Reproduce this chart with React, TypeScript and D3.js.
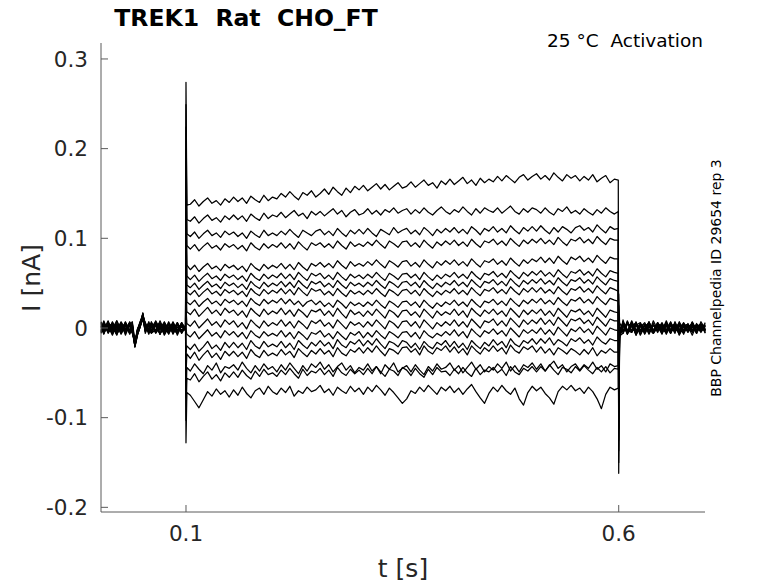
import React from 'react';
import * as d3 from 'd3';

// sample times (s): holding | step | tail
const preTimes = [
  0.002, 0.005, 0.01, 0.015, 0.02, 0.025, 0.03, 0.035, 0.038, 0.041, 0.044, 0.047,
  0.0502, 0.053, 0.057, 0.06, 0.065, 0.07, 0.075, 0.08, 0.085, 0.09, 0.095, 0.0995,
];
const pulseTimes = [
  0.1, 0.101,
  0.105, 0.11, 0.115, 0.12, 0.125, 0.13, 0.135, 0.14, 0.145, 0.15,
  0.155, 0.16, 0.165, 0.17, 0.175, 0.18, 0.185, 0.19, 0.195, 0.2,
  0.205, 0.21, 0.215, 0.22, 0.225, 0.23, 0.235, 0.24, 0.245, 0.25,
  0.255, 0.26, 0.265, 0.27, 0.275, 0.28, 0.285, 0.29, 0.295, 0.3,
  0.305, 0.31, 0.315, 0.32, 0.325, 0.33, 0.335, 0.34, 0.345, 0.35,
  0.355, 0.36, 0.365, 0.37, 0.375, 0.38, 0.385, 0.39, 0.395, 0.4,
  0.405, 0.41, 0.415, 0.42, 0.425, 0.43, 0.435, 0.44, 0.445, 0.45,
  0.455, 0.46, 0.465, 0.47, 0.475, 0.48, 0.485, 0.49, 0.495, 0.5,
  0.505, 0.51, 0.515, 0.52, 0.525, 0.53, 0.535, 0.54, 0.545, 0.55,
  0.555, 0.56, 0.565, 0.57, 0.575, 0.58, 0.585, 0.59, 0.595,
  0.5995,
];
const postTimes = [
  0.6, 0.601,
  0.605, 0.61, 0.615, 0.62, 0.625, 0.63, 0.635, 0.64, 0.645, 0.65,
  0.655, 0.66, 0.665, 0.67, 0.675, 0.68, 0.685, 0.69, 0.695, 0.7,
];

// current of each sweep in pA (pre 24 | pulse 102 | post 22)
const sweep01 = [
  6, -5, 3, -7, 8, -2, 5, -6, 2, -19, -6, 4, 16, -4, 7, -5, 3, -7, 6, -1, 5, -8, 3, 0,
  274, 137,
  138, 143, 136, 141, 145, 139, 142, 137, 144, 140,
  146, 141, 145, 139, 147, 143, 140, 148, 142, 146,
  144, 150, 146, 152, 147, 143, 151, 148, 153, 146,
  150, 155, 149, 157, 152, 148, 156, 151, 158, 154,
  159, 153, 157, 161, 155, 160, 154, 158, 162, 156,
  158, 163, 157, 161, 165, 159, 162, 156, 164, 160,
  166, 160, 164, 168, 161, 165, 159, 167, 162, 166,
  163, 169, 164, 170, 166, 162, 168, 171, 165, 169,
  172, 166, 170, 165, 173, 168, 164, 171, 167, 170,
  164, 169, 165, 171, 163, 167, 170, 162, 166,
  165,
  -162, -12, 9, -7, 6, -8, 4, -3, 7, -6, 2, -7, 6, -2, 5, -8, 3, -4, 7, -3, 5, -6,
];
const sweep02 = [
  -4, 7, -6, 2, -8, 5, -1, 6, -5, -16, -2, 6, 12, 5, -7, 3, -4, 8, -3, 4, -6, 1, -5, 2,
  249, 121,
  119, 124, 117, 122, 126, 120, 123, 118, 125, 121,
  126, 121, 125, 119, 127, 123, 120, 128, 122, 126,
  124, 129, 123, 127, 131, 125, 128, 122, 130, 126,
  130, 125, 129, 133, 127, 131, 124, 129, 132, 126,
  128, 133, 127, 131, 126, 132, 129, 134, 128, 131,
  133, 127, 132, 128, 134, 129, 126, 131, 135, 130,
  127, 132, 129, 135, 130, 126, 133, 128, 134, 131,
  129, 134, 128, 132, 136, 130, 127, 133, 129, 134,
  132, 128, 134, 129, 126, 133, 130, 135, 128, 131,
  127, 133, 129, 126, 132, 128, 134, 130, 127,
  130,
  -150, -9, -6, 8, -4, 7, -7, 3, -6, 8, -2, 4, -7, 5, -1, 6, -4, 2, -8, 4, -3, 6,
];
const sweep03 = [
  5, -2, 8, -6, 1, -4, 7, -3, 4, -21, -7, 1, 17, -2, 5, -6, 8, -1, 2, -7, 4, -3, 6, -1,
  224, 105,
  102, 107, 100, 105, 109, 103, 106, 101, 108, 104,
  107, 102, 106, 100, 108, 104, 101, 109, 103, 106,
  103, 108, 104, 110, 105, 101, 109, 106, 103, 108,
  110, 104, 108, 103, 111, 106, 102, 109, 105, 110,
  105, 111, 106, 102, 110, 107, 104, 112, 106, 109,
  111, 105, 109, 104, 112, 108, 103, 110, 106, 111,
  107, 112, 106, 110, 105, 113, 109, 104, 111, 108,
  113, 107, 111, 106, 114, 109, 105, 112, 108, 113,
  108, 114, 109, 105, 112, 107, 113, 110, 106, 112,
  114, 109, 112, 107, 115, 110, 106, 113, 110,
  111,
  -137, -8, 7, -4, 5, -8, 3, -1, 6, -5, 4, -3, 8, -4, 1, -6, 5, -2, 4, -6, 7, -1,
];
const sweep04 = [
  -6, 3, -4, 7, -2, 6, -8, 4, -3, -17, -4, 6, 13, 2, -5, 7, -3, 5, -8, 1, -2, 6, -5, 3,
  199, 92,
  88, 93, 86, 91, 95, 89, 92, 87, 94, 90,
  93, 88, 92, 86, 95, 90, 87, 94, 89, 93,
  90, 95, 89, 94, 88, 96, 91, 87, 95, 92,
  95, 90, 94, 89, 97, 92, 88, 96, 91, 94,
  91, 96, 92, 98, 93, 89, 97, 94, 90, 96,
  97, 91, 95, 90, 98, 93, 89, 96, 92, 97,
  93, 98, 92, 96, 91, 99, 94, 90, 97, 95,
  99, 93, 97, 92, 100, 95, 91, 98, 94, 99,
  95, 100, 94, 98, 93, 101, 96, 92, 99, 97,
  101, 95, 99, 94, 102, 97, 93, 100, 98,
  98,
  -125, -7, 4, -6, 8, -3, 5, -7, 2, -4, 6, -1, 4, -6, 3, -7, 5, -3, 6, -4, 2, -3,
];
const sweep05 = [
  2, -7, 5, -1, 8, -4, 3, -6, 5, -19, -1, 7, 15, -6, 3, -2, 6, -7, 4, -3, 7, -4, 2, -1,
  173, 70,
  65, 70, 63, 68, 72, 66, 69, 64, 71, 67,
  70, 65, 69, 63, 72, 67, 64, 71, 66, 70,
  67, 72, 66, 71, 65, 73, 68, 64, 72, 69,
  73, 68, 72, 67, 75, 70, 66, 74, 69, 72,
  69, 74, 70, 76, 71, 67, 75, 72, 68, 74,
  75, 69, 73, 68, 76, 71, 67, 74, 70, 75,
  71, 76, 70, 74, 69, 77, 72, 68, 75, 73,
  77, 71, 75, 70, 78, 73, 69, 76, 72, 77,
  74, 79, 73, 78, 72, 80, 75, 71, 79, 76,
  80, 74, 78, 73, 81, 76, 72, 79, 77,
  77,
  -112, -6, 6, -4, 3, -7, 4, -2, 7, -4, 3, -5, 5, -3, 4, -7, 2, -4, 6, -2, 4, -5,
];
const sweep06 = [
  -3, 6, -2, 5, -6, 1, -5, 7, -1, -15, -5, 3, 11, 4, -3, 6, -5, 2, -7, 5, -1, 4, -3, 1,
  148, 58,
  54, 59, 52, 57, 61, 55, 58, 53, 60, 56,
  59, 54, 58, 52, 61, 56, 53, 60, 55, 59,
  56, 61, 55, 60, 54, 62, 57, 53, 61, 58,
  61, 55, 59, 54, 62, 57, 53, 60, 56, 59,
  55, 60, 56, 62, 57, 53, 61, 58, 54, 60,
  61, 56, 60, 54, 62, 57, 53, 59, 55, 60,
  57, 62, 56, 60, 55, 63, 58, 54, 61, 59,
  63, 57, 61, 56, 64, 59, 55, 62, 58, 63,
  59, 64, 58, 62, 57, 65, 60, 56, 63, 61,
  65, 59, 63, 58, 66, 61, 57, 64, 62,
  61,
  -100, -8, 5, -3, 7, -5, 2, 4, -7, 3, -2, 6, -4, 3, -6, 7, -3, 1, -5, 5, -2, 3,
];
const sweep07 = [
  4, -4, 2, -8, 5, -2, 6, -4, 1, -21, -8, 2, 14, 5, -6, 1, 7, -3, 4, -5, 2, -6, 5, -2,
  123, 48,
  45, 50, 43, 48, 52, 46, 49, 44, 51, 47,
  50, 45, 49, 43, 52, 47, 44, 51, 46, 50,
  47, 52, 46, 51, 45, 53, 48, 44, 52, 49,
  52, 46, 50, 45, 53, 48, 44, 51, 47, 50,
  46, 51, 47, 53, 48, 44, 52, 49, 45, 51,
  52, 47, 51, 45, 53, 48, 44, 50, 46, 51,
  48, 53, 47, 51, 46, 54, 49, 45, 52, 50,
  54, 48, 52, 47, 55, 50, 46, 53, 49, 54,
  50, 55, 49, 53, 48, 56, 51, 47, 54, 52,
  56, 50, 54, 49, 57, 52, 48, 55, 53,
  52,
  -87, -5, -4, 7, -3, 4, -8, 2, 5, -4, 6, -3, 3, -5, 4, -2, 6, -4, 2, -6, 4, -3,
];
const sweep08 = [
  -5, 5, -3, 3, -7, 4, -1, 2, -6, -16, -3, 5, 12, -1, 4, -5, 2, 6, -4, 5, -7, 3, 1, -3,
  98, 40,
  37, 42, 35, 40, 44, 38, 41, 36, 43, 39,
  42, 37, 41, 35, 44, 39, 36, 43, 38, 42,
  39, 44, 38, 43, 37, 45, 40, 36, 44, 41,
  43, 37, 41, 36, 44, 39, 35, 42, 38, 41,
  37, 42, 38, 44, 39, 35, 43, 40, 36, 42,
  43, 38, 42, 36, 44, 39, 35, 41, 37, 42,
  39, 44, 38, 42, 37, 45, 40, 36, 43, 41,
  45, 39, 43, 38, 46, 41, 37, 44, 40, 45,
  40, 45, 39, 43, 38, 46, 41, 37, 44, 42,
  46, 40, 44, 39, 47, 42, 38, 45, 43,
  41,
  -75, -7, 2, -5, 6, -3, 3, -6, 4, -2, 5, -4, 2, -6, 7, -3, 1, -4, 5, -2, 3, -5,
];
const sweep09 = [
  7, -3, 1, -5, 3, -2, 5, -7, 3, -18, -5, 2, 15, 3, -4, 5, -6, 1, -5, 4, -2, -6, 3, 1,
  73, 29,
  26, 31, 24, 29, 33, 27, 30, 25, 32, 28,
  31, 26, 30, 24, 33, 28, 25, 32, 27, 31,
  28, 33, 27, 32, 26, 30, 24, 29, 31, 26,
  30, 24, 28, 23, 31, 27, 22, 29, 25, 28,
  24, 29, 25, 31, 26, 22, 30, 27, 23, 29,
  30, 25, 29, 23, 31, 26, 22, 28, 24, 29,
  26, 31, 25, 29, 24, 32, 27, 23, 30, 28,
  32, 26, 30, 25, 33, 28, 24, 31, 27, 32,
  28, 33, 27, 31, 26, 34, 29, 25, 32, 30,
  34, 28, 32, 27, 35, 30, 26, 33, 31,
  30,
  -62, -6, 5, -3, 2, 6, -4, 3, -2, -6, 4, 1, -3, 6, -4, 3, -7, 4, -2, 3, -4, 2,
];
const sweep10 = [
  -2, 8, -4, 2, -6, 3, -3, 6, -2, -20, -7, 1, 12, 6, -2, -4, 4, -1, 7, -4, 2, -5, 6, -3,
  48, 18,
  15, 21, 13, 18, 23, 16, 20, 14, 22, 17,
  20, 14, 19, 12, 22, 17, 13, 21, 15, 19,
  16, 22, 15, 20, 13, 21, 17, 12, 20, 18,
  21, 14, 19, 13, 22, 16, 11, 20, 15, 18,
  13, 19, 14, 21, 16, 11, 20, 17, 12, 19,
  20, 14, 18, 12, 21, 16, 11, 19, 14, 18,
  15, 21, 14, 19, 12, 22, 17, 13, 20, 16,
  21, 15, 19, 13, 22, 17, 12, 20, 15, 20,
  16, 21, 14, 19, 13, 22, 17, 12, 20, 18,
  21, 15, 19, 13, 22, 17, 12, 20, 18,
  17,
  -50, -8, 7, -2, -4, 3, 6, -3, 1, -5, 3, -6, 4, -2, 5, -4, 2, -3, 6, -4, 3, -2,
];
const sweep11 = [
  3, -6, 6, -3, 4, -7, 2, -2, 5, -17, -2, 6, 16, 1, 3, -4, 5, -6, 1, -5, 6, -2, -4, 2,
  23, 5,
  2, 8, 0, 5, 10, 3, 7, 1, 9, 4,
  8, 1, 6, -1, 9, 4, 0, 8, 2, 6,
  3, 9, 2, 7, 0, 8, 4, -1, 8, 5,
  9, 2, 6, 0, 9, 4, -1, 7, 3, 6,
  1, 7, 2, 9, 4, -1, 8, 5, 0, 7,
  8, 2, 7, 0, 9, 4, -1, 6, 2, 7,
  3, 9, 2, 7, 1, 10, 5, 0, 8, 6,
  10, 3, 8, 2, 11, 6, 1, 9, 4, 9,
  5, 11, 4, 9, 3, 12, 7, 2, 10, 8,
  11, 5, 9, 3, 12, 7, 2, 10, 8,
  8,
  -37, -5, -6, 4, 3, -4, 1, 6, -3, 3, -5, 4, -2, 7, -4, 2, -3, 5, -4, 3, -1, 4,
];
const sweep12 = [
  -4, 2, -1, 6, -5, 4, -6, 3, 7, -15, -1, 3, 10, -3, 6, 2, -5, 3, -4, 7, -2, 4, -6, 1,
  -2, -7,
  -10, -4, -12, -7, -2, -9, -5, -11, -3, -8,
  -4, -10, -5, -12, -3, -8, -11, -4, -9, -6,
  -9, -3, -10, -5, -12, -4, -8, -13, -5, -7,
  -3, -10, -6, -12, -4, -9, -13, -5, -8, -4,
  -11, -5, -10, -3, -8, -12, -4, -7, -11, -5,
  -4, -10, -5, -12, -3, -8, -11, -6, -9, -4,
  -8, -2, -9, -4, -11, -1, -6, -10, -3, -6,
  -1, -7, -3, -9, 0, -5, -10, -2, -6, -2,
  -6, 0, -7, -2, -8, 1, -4, -9, -1, -4,
  1, -5, -1, -7, 2, -3, -8, 0, -2,
  -3,
  -25, -7, 3, -4, 6, -2, -4, 3, 4, -3, -2, 5, -6, 2, 4, -3, -5, 3, -2, 4, -3, 2,
];
const sweep13 = [
  1, -5, 7, -2, 3, -6, 4, -3, -5, -19, -6, 4, 13, 3, -5, 1, 3, -7, 5, -1, 2, -5, 4, -2,
  -27, -20,
  -24, -18, -26, -21, -15, -23, -19, -25, -16, -22,
  -16, -22, -17, -24, -14, -20, -23, -15, -21, -18,
  -21, -15, -22, -17, -24, -14, -19, -23, -16, -20,
  -14, -20, -16, -23, -13, -19, -22, -15, -18, -13,
  -20, -14, -19, -12, -18, -23, -15, -17, -21, -14,
  -16, -22, -17, -24, -15, -20, -23, -16, -19, -14,
  -21, -15, -22, -17, -24, -14, -19, -23, -16, -20,
  -13, -19, -15, -22, -12, -18, -21, -14, -17, -12,
  -18, -12, -17, -11, -19, -13, -16, -20, -12, -15,
  -11, -17, -13, -19, -10, -15, -18, -12, -14,
  -14,
  -12, -9, 4, -7, 2, 5, -4, -2, 4, -6, 3, -3, 6, -4, 2, -6, 3, 4, -3, 2, -5, 3,
];
const sweep14 = [
  5, -1, 3, -6, 2, -4, 6, -5, 2, -21, -3, 5, 9, -4, 2, 5, -3, 1, -6, 3, -2, 5, -4, 3,
  -52, -29,
  -34, -27, -36, -30, -25, -33, -28, -35, -26, -31,
  -26, -32, -27, -34, -24, -30, -33, -25, -31, -28,
  -31, -24, -30, -26, -33, -23, -28, -32, -25, -29,
  -23, -29, -25, -32, -22, -28, -31, -24, -27, -22,
  -28, -22, -27, -20, -26, -31, -23, -25, -29, -22,
  -21, -27, -23, -30, -20, -26, -29, -22, -25, -20,
  -27, -21, -28, -23, -30, -20, -25, -29, -22, -26,
  -20, -26, -22, -29, -19, -25, -28, -21, -24, -20,
  -27, -21, -28, -23, -30, -22, -25, -29, -23, -26,
  -30, -24, -29, -22, -31, -25, -28, -23, -27,
  -27,
  0, -6, -3, 6, -5, 3, 2, -4, 5, -3, 4, -2, -5, 3, -4, 5, -2, 3, -4, 2, 4, -3,
];
const sweep15 = [
  -3, 4, -5, 1, -7, 3, -2, 5, -2, -16, -4, 2, 12, 2, -3, -5, 4, -1, 3, -6, 2, -3, 5, -1,
  -78, -44,
  -48, -40, -46, -51, -42, -47, -39, -50, -43, -45,
  -41, -47, -38, -45, -50, -42, -48, -40, -46, -43,
  -49, -41, -47, -39, -45, -51, -42, -48, -40, -44,
  -38, -46, -41, -49, -43, -39, -47, -42, -50, -44,
  -47, -40, -48, -43, -51, -41, -46, -39, -49, -45,
  -42, -49, -41, -47, -52, -43, -48, -40, -46, -44,
  -39, -47, -42, -50, -44, -38, -46, -41, -49, -43,
  -47, -40, -45, -38, -48, -42, -49, -41, -44, -39,
  -46, -40, -48, -42, -37, -45, -41, -49, -43, -40,
  -47, -41, -45, -38, -46, -42, -49, -40, -43,
  -42,
  13, -4, 6, -3, -5, 4, -2, 3, -4, 5, -3, 2, 4, -5, 3, -2, 5, -4, 2, -3, 4, -2,
];
const sweep16 = [
  2, -6, 4, 3, -5, 2, -3, 6, -4, -20, -2, 4, 15, -3, 5, -6, -2, 4, -1, 3, -5, 6, -3, 2,
  -103, -56,
  -58, -51, -60, -54, -49, -57, -52, -59, -50, -55,
  -49, -55, -47, -53, -57, -48, -54, -46, -52, -50,
  -54, -47, -52, -45, -51, -56, -46, -53, -48, -50,
  -45, -52, -47, -54, -44, -50, -53, -46, -51, -47,
  -52, -45, -51, -43, -49, -54, -46, -48, -53, -44,
  -47, -53, -45, -51, -55, -46, -52, -44, -49, -48,
  -53, -46, -51, -44, -50, -54, -45, -52, -47, -49,
  -44, -50, -46, -53, -43, -49, -52, -45, -48, -43,
  -49, -43, -48, -41, -47, -52, -44, -46, -50, -43,
  -48, -42, -47, -51, -44, -49, -43, -50, -45,
  -46,
  25, 2, -4, 5, 2, -6, 3, -3, 6, -4, -2, 3, -4, 5, -3, 2, 4, -5, 3, -2, 4, -3,
];
const sweep17 = [
  -5, 3, -2, 5, -3, 7, -1, 4, -4, -15, -7, 1, 11, 4, -1, 2, -5, 3, -2, 5, -4, 1, -2, 0,
  -128, -72,
  -75, -82, -89, -80, -71, -76, -68, -74, -70, -77,
  -69, -75, -66, -73, -78, -70, -67, -74, -65, -71,
  -74, -67, -72, -65, -76, -70, -73, -66, -71, -69,
  -64, -72, -68, -75, -66, -70, -73, -65, -71, -67,
  -74, -66, -71, -64, -69, -75, -67, -72, -78, -84,
  -79, -70, -73, -66, -71, -64, -69, -74, -66, -70,
  -65, -72, -67, -74, -68, -63, -71, -78, -84, -73,
  -66, -71, -64, -70, -74, -67, -79, -86, -72, -65,
  -70, -66, -73, -78, -85, -71, -65, -69, -64, -70,
  -67, -73, -66, -71, -79, -90, -74, -66, -69,
  -67,
  38, 6, -3, 6, -4, 3, -2, -4, 4, -3, 5, 1, -4, 3, -2, 4, -5, 2, 3, -3, 4, -2,
];

const sweeps = [
  sweep01, sweep02, sweep03, sweep04, sweep05, sweep06, sweep07, sweep08, sweep09,
  sweep10, sweep11, sweep12, sweep13, sweep14, sweep15, sweep16, sweep17,
];

const yTicks = [-0.2, -0.1, 0, 0.1, 0.2, 0.3];
const yTickLabels = ['-0.2', '-0.1', '0', '0.1', '0.2', '0.3'];
const xTicks = [0.1, 0.6];
const xTickLabels = ['0.1', '0.6'];

const FONT = 'DejaVu Sans, sans-serif';
const AXIS = '#5a5a5a';
const TEXT = '#262626';

export default function App() {
  const x = d3.scaleLinear().domain([0.0018, 0.6997]).range([101, 705]);
  const y = d3.scaleLinear().domain([-0.2052, 0.3178]).range([512, 43]);
  const times = [...preTimes, ...pulseTimes, ...postTimes];

  const line = d3.line<number>()
    .defined((_, i) => i < times.length)
    .x((_, i) => x(times[i]))
    .y(d => y(d / 1000));

  const [x0, x1] = x.range();
  const [y0, y1] = y.range();

  return (
    <svg width={778} height={583} style={{ position: 'absolute', left: 0, top: 0, background: '#fff' }}>
      <g fill="none" stroke="#000" strokeWidth={1.25} strokeLinejoin="round">
        {sweeps.map((s, i) => <path key={i} d={line(s) || ''} />)}
      </g>

      {/* axes, ticks point inward */}
      <line x1={x0} x2={x0} y1={y0} y2={y1} stroke={AXIS} strokeWidth={1} />
      <line x1={x0} x2={x1} y1={y0} y2={y0} stroke={AXIS} strokeWidth={1} />
      {yTicks.map((t, i) => (
        <g key={t}>
          <line x1={x0} x2={x0 + 7} y1={y(t)} y2={y(t)} stroke={AXIS} />
          <text x={x0 - 13} y={y(t)} dy="0.36em" textAnchor="end" fontSize={21.5} fontFamily={FONT} fill={TEXT}>
            {yTickLabels[i]}
          </text>
        </g>
      ))}
      {xTicks.map((t, i) => (
        <g key={t}>
          <line x1={x(t)} x2={x(t)} y1={y0} y2={y0 - 7} stroke={AXIS} />
          <text x={x(t)} y={y0 + 29} textAnchor="middle" fontSize={21.5} fontFamily={FONT} fill={TEXT}>
            {xTickLabels[i]}
          </text>
        </g>
      ))}

      <text x={403} y={577} textAnchor="middle" fontSize={25} fontFamily={FONT} fill={TEXT}>t [s]</text>
      <text transform="translate(40,278) rotate(-90)" textAnchor="middle" fontSize={25} fontFamily={FONT} fill={TEXT}>I [nA]</text>

      <text x={246} y={26} textAnchor="middle" fontSize={23.5} fontWeight="bold" fontFamily={FONT} fill="#000">
        TREK1{'\u00a0\u00a0'}Rat{'\u00a0\u00a0'}CHO_FT
      </text>
      <text x={703} y={47} textAnchor="end" fontSize={18.5} fontFamily={FONT} fill="#000">
        25 °C{'\u00a0\u00a0'}Activation
      </text>
      <text transform="translate(721,278) rotate(-90)" textAnchor="middle" fontSize={14} fontFamily={FONT} fill="#000">
        BBP Channelpedia ID 29654 rep 3
      </text>
    </svg>
  );
}
